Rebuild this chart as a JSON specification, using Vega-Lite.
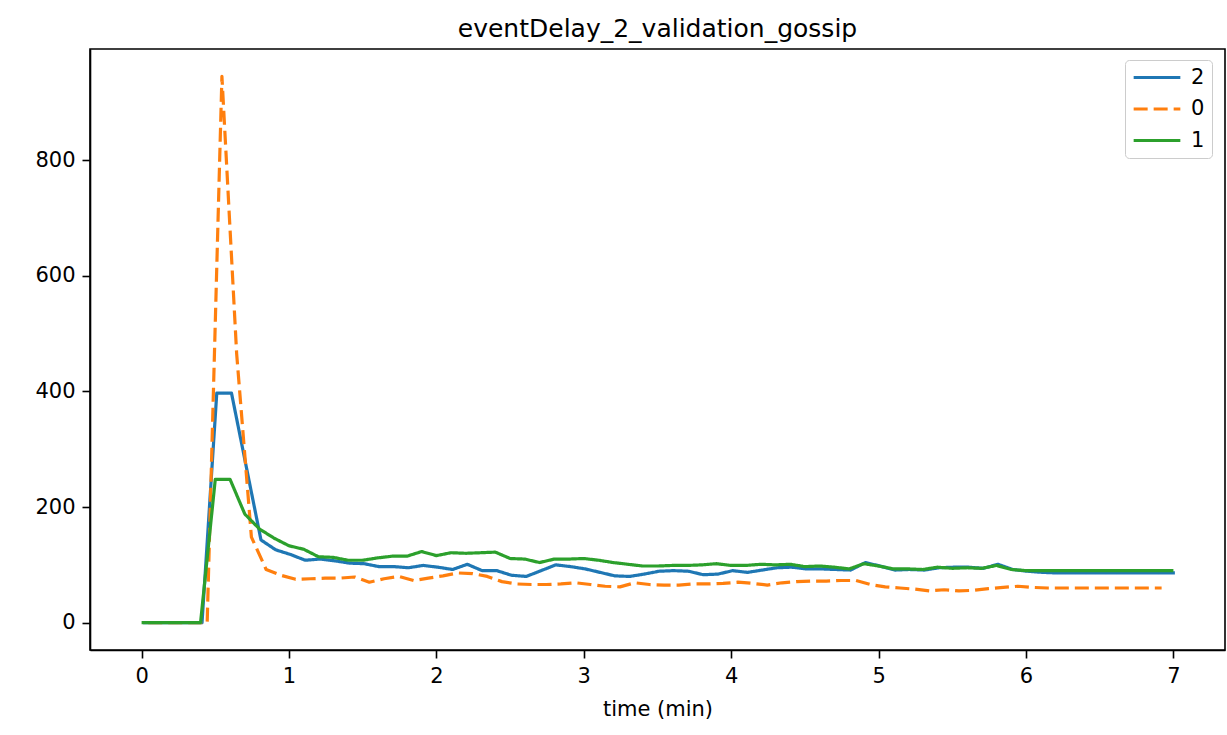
{
  "$schema": "https://vega.github.io/schema/vega-lite/v6.json",
  "autosize": "none",
  "width": 1135,
  "height": 601,
  "padding": {"left": 90, "top": 49, "right": 2, "bottom": 85},
  "background": "white",
  "title": {"text": "eventDelay_2_validation_gossip", "font": "DejaVu Sans", "fontSize": 25, "fontWeight": "normal", "color": "black", "anchor": "middle", "offset": -13, "baseline": "alphabetic"},
  "data": {"values": [
    {"s":"2","t":0.01,"v":0},{"s":"2","t":0.11,"v":0},{"s":"2","t":0.21,"v":0},{"s":"2","t":0.31,"v":0},{"s":"2","t":0.41,"v":0},
    {"s":"2","t":0.51,"v":397},{"s":"2","t":0.61,"v":397},{"s":"2","t":0.71,"v":270},{"s":"2","t":0.81,"v":143},{"s":"2","t":0.91,"v":126},
    {"s":"2","t":1.01,"v":118},{"s":"2","t":1.11,"v":108},{"s":"2","t":1.21,"v":110},{"s":"2","t":1.31,"v":107},{"s":"2","t":1.41,"v":103},
    {"s":"2","t":1.51,"v":102},{"s":"2","t":1.61,"v":97},{"s":"2","t":1.71,"v":97},{"s":"2","t":1.81,"v":95},{"s":"2","t":1.91,"v":99},
    {"s":"2","t":2.01,"v":96},{"s":"2","t":2.11,"v":92},{"s":"2","t":2.21,"v":101},{"s":"2","t":2.31,"v":90},{"s":"2","t":2.41,"v":90},
    {"s":"2","t":2.51,"v":82},{"s":"2","t":2.61,"v":80},{"s":"2","t":2.71,"v":90},{"s":"2","t":2.81,"v":100},{"s":"2","t":2.91,"v":97},
    {"s":"2","t":3.01,"v":93},{"s":"2","t":3.11,"v":87},{"s":"2","t":3.21,"v":81},{"s":"2","t":3.31,"v":80},{"s":"2","t":3.41,"v":84},
    {"s":"2","t":3.51,"v":89},{"s":"2","t":3.61,"v":90},{"s":"2","t":3.71,"v":89},{"s":"2","t":3.81,"v":83},{"s":"2","t":3.91,"v":84},
    {"s":"2","t":4.01,"v":90},{"s":"2","t":4.11,"v":87},{"s":"2","t":4.21,"v":91},{"s":"2","t":4.31,"v":95},{"s":"2","t":4.41,"v":96},
    {"s":"2","t":4.51,"v":93},{"s":"2","t":4.61,"v":93},{"s":"2","t":4.71,"v":92},{"s":"2","t":4.81,"v":91},{"s":"2","t":4.91,"v":104},
    {"s":"2","t":5.01,"v":98},{"s":"2","t":5.11,"v":91},{"s":"2","t":5.21,"v":92},{"s":"2","t":5.31,"v":91},{"s":"2","t":5.41,"v":95},
    {"s":"2","t":5.51,"v":96},{"s":"2","t":5.61,"v":96},{"s":"2","t":5.71,"v":94},{"s":"2","t":5.81,"v":101},{"s":"2","t":5.91,"v":92},
    {"s":"2","t":6.01,"v":89},{"s":"2","t":6.11,"v":87},{"s":"2","t":6.21,"v":86},{"s":"2","t":6.31,"v":86},{"s":"2","t":6.41,"v":86},
    {"s":"2","t":6.51,"v":86},{"s":"2","t":6.61,"v":86},{"s":"2","t":6.71,"v":86},{"s":"2","t":6.81,"v":86},{"s":"2","t":6.91,"v":86},{"s":"2","t":7.01,"v":86},
    {"s":"0","t":0.045,"v":0},{"s":"0","t":0.145,"v":0},{"s":"0","t":0.245,"v":0},{"s":"0","t":0.345,"v":0},{"s":"0","t":0.445,"v":0},
    {"s":"0","t":0.545,"v":945},{"s":"0","t":0.645,"v":465},{"s":"0","t":0.745,"v":148},{"s":"0","t":0.845,"v":92},{"s":"0","t":0.945,"v":82},
    {"s":"0","t":1.045,"v":75},{"s":"0","t":1.145,"v":76},{"s":"0","t":1.245,"v":77},{"s":"0","t":1.345,"v":77},{"s":"0","t":1.445,"v":79},
    {"s":"0","t":1.545,"v":70},{"s":"0","t":1.645,"v":76},{"s":"0","t":1.745,"v":80},{"s":"0","t":1.845,"v":73},{"s":"0","t":1.945,"v":77},
    {"s":"0","t":2.045,"v":81},{"s":"0","t":2.145,"v":86},{"s":"0","t":2.245,"v":85},{"s":"0","t":2.345,"v":80},{"s":"0","t":2.445,"v":71},
    {"s":"0","t":2.545,"v":67},{"s":"0","t":2.645,"v":66},{"s":"0","t":2.745,"v":66},{"s":"0","t":2.845,"v":67},{"s":"0","t":2.945,"v":69},
    {"s":"0","t":3.045,"v":66},{"s":"0","t":3.145,"v":63},{"s":"0","t":3.245,"v":62},{"s":"0","t":3.345,"v":69},{"s":"0","t":3.445,"v":66},
    {"s":"0","t":3.545,"v":65},{"s":"0","t":3.645,"v":65},{"s":"0","t":3.745,"v":67},{"s":"0","t":3.845,"v":67},{"s":"0","t":3.945,"v":68},
    {"s":"0","t":4.045,"v":70},{"s":"0","t":4.145,"v":68},{"s":"0","t":4.245,"v":65},{"s":"0","t":4.345,"v":69},{"s":"0","t":4.445,"v":71},
    {"s":"0","t":4.545,"v":72},{"s":"0","t":4.645,"v":72},{"s":"0","t":4.745,"v":73},{"s":"0","t":4.845,"v":73},{"s":"0","t":4.945,"v":66},
    {"s":"0","t":5.045,"v":62},{"s":"0","t":5.145,"v":60},{"s":"0","t":5.245,"v":58},{"s":"0","t":5.345,"v":55},{"s":"0","t":5.445,"v":57},
    {"s":"0","t":5.545,"v":55},{"s":"0","t":5.645,"v":56},{"s":"0","t":5.745,"v":59},{"s":"0","t":5.845,"v":61},{"s":"0","t":5.945,"v":63},
    {"s":"0","t":6.045,"v":61},{"s":"0","t":6.145,"v":60},{"s":"0","t":6.245,"v":60},{"s":"0","t":6.345,"v":60},{"s":"0","t":6.445,"v":60},
    {"s":"0","t":6.545,"v":60},{"s":"0","t":6.645,"v":60},{"s":"0","t":6.745,"v":60},{"s":"0","t":6.845,"v":60},{"s":"0","t":6.92,"v":60},
    {"s":"1","t":0.0,"v":0},{"s":"1","t":0.1,"v":0},{"s":"1","t":0.2,"v":0},{"s":"1","t":0.3,"v":0},{"s":"1","t":0.4,"v":0},
    {"s":"1","t":0.5,"v":248},{"s":"1","t":0.6,"v":248},{"s":"1","t":0.7,"v":188},{"s":"1","t":0.8,"v":162},{"s":"1","t":0.9,"v":146},
    {"s":"1","t":1.0,"v":133},{"s":"1","t":1.1,"v":127},{"s":"1","t":1.2,"v":114},{"s":"1","t":1.3,"v":113},{"s":"1","t":1.4,"v":108},
    {"s":"1","t":1.5,"v":108},{"s":"1","t":1.6,"v":112},{"s":"1","t":1.7,"v":115},{"s":"1","t":1.8,"v":115},{"s":"1","t":1.9,"v":123},
    {"s":"1","t":2.0,"v":116},{"s":"1","t":2.1,"v":121},{"s":"1","t":2.2,"v":120},{"s":"1","t":2.3,"v":121},{"s":"1","t":2.4,"v":122},
    {"s":"1","t":2.5,"v":111},{"s":"1","t":2.6,"v":110},{"s":"1","t":2.7,"v":104},{"s":"1","t":2.8,"v":110},{"s":"1","t":2.9,"v":110},
    {"s":"1","t":3.0,"v":111},{"s":"1","t":3.1,"v":108},{"s":"1","t":3.2,"v":104},{"s":"1","t":3.3,"v":101},{"s":"1","t":3.4,"v":98},
    {"s":"1","t":3.5,"v":98},{"s":"1","t":3.6,"v":99},{"s":"1","t":3.7,"v":99},{"s":"1","t":3.8,"v":100},{"s":"1","t":3.9,"v":102},
    {"s":"1","t":4.0,"v":99},{"s":"1","t":4.1,"v":99},{"s":"1","t":4.2,"v":101},{"s":"1","t":4.3,"v":100},{"s":"1","t":4.4,"v":101},
    {"s":"1","t":4.5,"v":97},{"s":"1","t":4.6,"v":98},{"s":"1","t":4.7,"v":96},{"s":"1","t":4.8,"v":93},{"s":"1","t":4.9,"v":102},
    {"s":"1","t":5.0,"v":98},{"s":"1","t":5.1,"v":93},{"s":"1","t":5.2,"v":93},{"s":"1","t":5.3,"v":92},{"s":"1","t":5.4,"v":96},
    {"s":"1","t":5.5,"v":94},{"s":"1","t":5.6,"v":95},{"s":"1","t":5.7,"v":94},{"s":"1","t":5.8,"v":99},{"s":"1","t":5.9,"v":92},
    {"s":"1","t":6.0,"v":90},{"s":"1","t":6.1,"v":90},{"s":"1","t":6.2,"v":90},{"s":"1","t":6.3,"v":90},{"s":"1","t":6.4,"v":90},
    {"s":"1","t":6.5,"v":90},{"s":"1","t":6.6,"v":90},{"s":"1","t":6.7,"v":90},{"s":"1","t":6.8,"v":90},{"s":"1","t":6.9,"v":90},{"s":"1","t":7.0,"v":90}
  ]},
  "mark": {"type": "line", "strokeWidth": 3.2, "strokeCap": "butt", "strokeJoin": "round"},
  "encoding": {
    "x": {"field": "t", "type": "quantitative", "scale": {"domain": [-0.35, 7.35], "nice": false, "zero": false},
      "axis": {"title": "time (min)", "values": [0,1,2,3,4,5,6,7], "format": "d"}},
    "y": {"field": "v", "type": "quantitative", "scale": {"domain": [-47.25, 992.25], "nice": false, "zero": false},
      "axis": {"title": null, "values": [0,200,400,600,800], "format": "d"}},
    "color": {"field": "s", "type": "nominal", "sort": null,
      "scale": {"domain": ["2","0","1"], "range": ["#1f77b4","#ff7f0e","#2ca02c"]},
      "legend": {"title": null}},
    "strokeDash": {"field": "s", "type": "nominal", "sort": null,
      "scale": {"domain": ["2","0","1"], "range": [[1,0],[14,6],[1,0]]},
      "legend": {"title": null}}
  },
  "config": {
    "font": "DejaVu Sans",
    "view": {"stroke": "black", "strokeWidth": 1.6},
    "axis": {
      "grid": false,
      "domainColor": "black", "domainWidth": 1.6,
      "tickColor": "black", "tickWidth": 1.6, "tickSize": 8,
      "labelFont": "DejaVu Sans", "labelFontSize": 21, "labelColor": "black", "labelPadding": 7,
      "titleFont": "DejaVu Sans", "titleFontSize": 21, "titleFontWeight": "normal", "titleColor": "black", "titlePadding": 12
    },
    "legend": {
      "orient": "none", "legendX": 1035, "legendY": 11,
      "fillColor": "white", "strokeColor": "#cccccc", "cornerRadius": 4, "padding": 7,
      "labelFont": "DejaVu Sans", "labelFontSize": 21, "labelColor": "black", "labelOffset": 9,
      "symbolType": "stroke", "symbolSize": 2180, "symbolStrokeWidth": 3.2,
      "clipHeight": 21, "rowPadding": 9.5
    }
  }
}
